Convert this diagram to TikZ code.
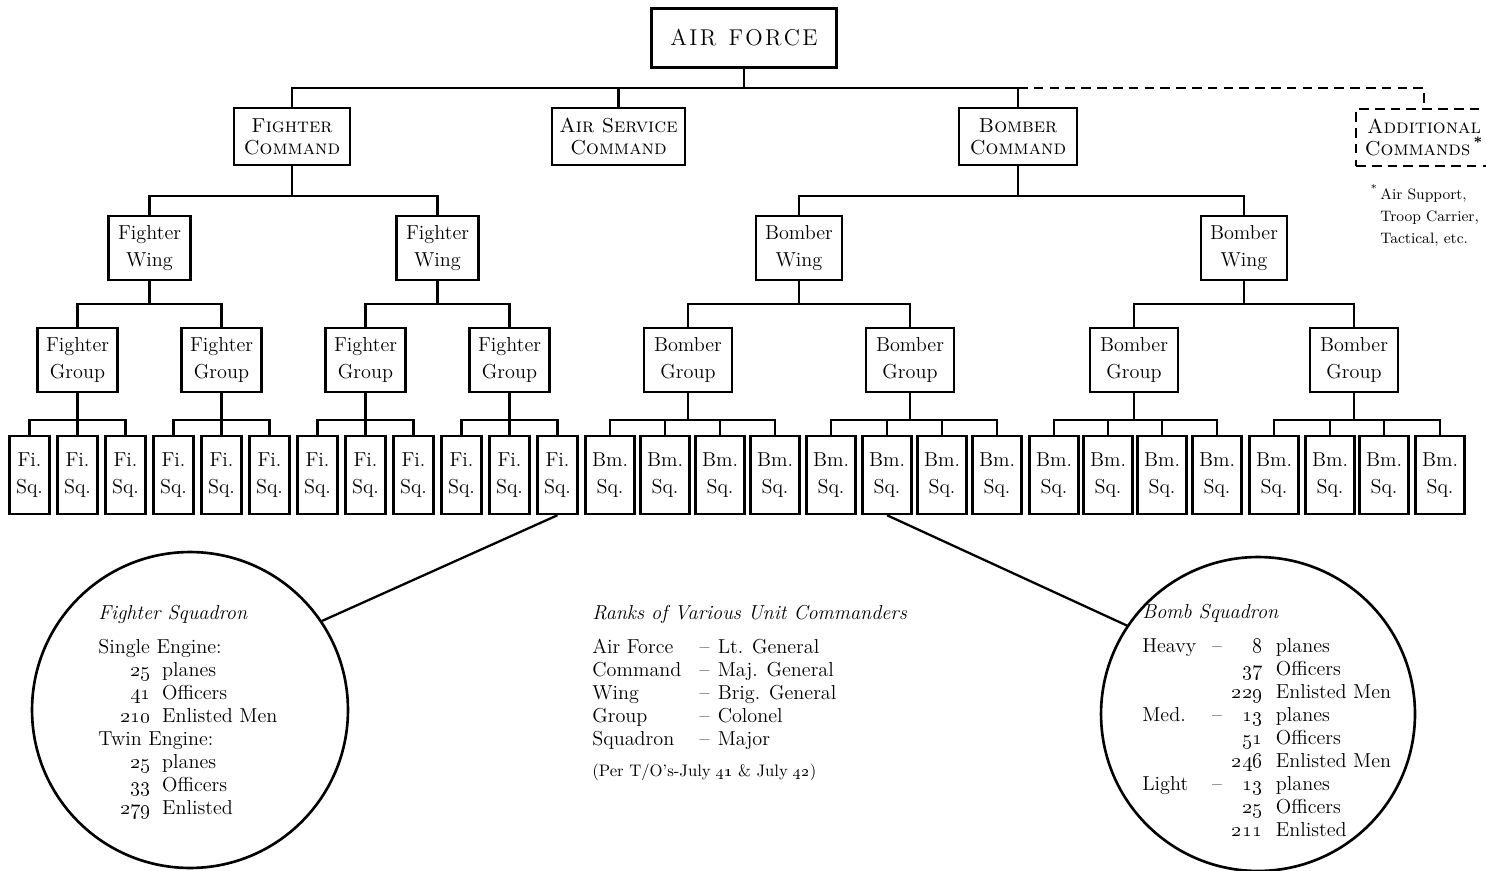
\documentclass[tikz,border=0pt]{standalone}
\newcommand{\nm}[1]{\makebox[30pt][r]{\oldstylenums{#1}}\hspace{6.3pt}}
\newcommand{\brow}[4]{\makebox[39.7pt][l]{#1}\makebox[28.9pt][l]{#2\hfill\oldstylenums{#3}}\hspace{7.4pt}#4}
\newcommand{\rrow}[2]{\makebox[61pt][l]{#1}\makebox[10.4pt][l]{--}#2}
\begin{document}
\begin{tikzpicture}[x=0.02cm,y=-0.02cm,
  base/.style={font=\fontsize{11.5}{15}\selectfont, align=center, inner sep=0pt},
  ubox/.style={base, draw, line width=1.4pt},
  cmdbox/.style={ubox, font=\fontsize{11.5}{12.5}\selectfont, minimum height=1.14cm},
  wingbox/.style={ubox, minimum height=1.28cm},
  fsq/.style={ubox, minimum width=0.8cm, minimum height=1.56cm},
  bsq/.style={fsq, minimum width=0.98cm},
  conn/.style={line width=1.3pt},
  dashconn/.style={line width=1.3pt, dash pattern=on 5.5pt off 3.5pt},
  ring/.style={circle, draw, line width=1.5pt, inner sep=0pt},
  txt/.style={anchor=north west, inner sep=0pt, font=\fontsize{11.5}{13.1}\selectfont}
]
\useasboundingbox[fill=white] (0,0) rectangle (1486,871);

% top level
\node[ubox, minimum width=3.7cm, minimum height=1.18cm] (af) at (744,38)
  {\fontsize{13}{15}\selectfont A\kern1.3pt I\kern1.3pt R\hspace{7pt}F\kern1.3pt O\kern1.3pt R\kern1.3pt C\kern1.3pt E};
\node[cmdbox, minimum width=2.32cm] (fc) at (292,136.5) {\textsc{Fighter}\\\textsc{Command}};
\node[cmdbox, minimum width=2.66cm] (asc) at (618.5,136.5) {\textsc{Air Service}\\\textsc{Command}};
\node[cmdbox, minimum width=2.36cm] (bc) at (1018,136.5) {\textsc{Bomber}\\\textsc{Command}};
\node[cmdbox, dash pattern=on 5.5pt off 3.5pt, minimum width=2.72cm] (adc) at (1424,137.5)
  {\textsc{Additional}\\\textsc{Commands}\,\textsuperscript{\textbf{*}}};
\node[anchor=north west, inner sep=0pt, align=left, font=\fontsize{8.6}{12.8}\selectfont] (note) at (1380,184)
  {\llap{\textsuperscript{*}\,}Air Support,\\Troop Carrier,\\Tactical, etc.};

% wings
\node[wingbox, minimum width=1.64cm] (fw1) at (149.5,248) {Fighter\\Wing};
\node[wingbox, minimum width=1.64cm] (fw2) at (437.5,248) {Fighter\\Wing};
\node[wingbox, minimum width=1.72cm] (bw1) at (799,248) {Bomber\\Wing};
\node[wingbox, minimum width=1.72cm] (bw2) at (1244,248) {Bomber\\Wing};

% groups
\foreach \x [count=\i] in {77.5,221.5,365.5,509.5}
  \node[wingbox, minimum width=1.6cm] (fg\i) at (\x,360) {Fighter\\Group};
\foreach \x [count=\i] in {688,910,1134,1354}
  \node[wingbox, minimum width=1.76cm] (bg\i) at (\x,360) {Bomber\\Group};

% squadrons
\foreach \x [count=\i] in {29.5,77.5,125.5,173.5,221.5,269.5,317.5,365.5,413.5,461.5,509.5,557.5}
  \node[fsq] (fs\i) at (\x,475) {Fi.\\Sq.};
\foreach \x [count=\i] in {610,665,720,775,831,887,942,997,1054,1108,1162,1217,1274,1330,1384,1440}
  \node[bsq] (bs\i) at (\x,475) {Bm.\\Sq.};

% connectors: top
\coordinate (bus0) at (744,88);
\draw[conn] (af.south) -- (bus0);
\draw[conn] (fc.north) |- (bus0) -| (bc.north);
\draw[conn] (asc.north) -- (asc.north |- bus0);
\draw[dashconn] (bc.north |- bus0) -| (adc.north);

% commands -> wings
\draw[conn] (fc.south) -- (fc.south |- 0,196);
\draw[conn] (fw1.north) |- (fc.south |- 0,196) -| (fw2.north);
\draw[conn] (bc.south) -- (bc.south |- 0,196);
\draw[conn] (bw1.north) |- (bc.south |- 0,196) -| (bw2.north);

% wings -> groups
\draw[conn] (fw1.south) -- (fw1.south |- 0,304);
\draw[conn] (fg1.north) |- (fw1.south |- 0,304) -| (fg2.north);
\draw[conn] (fw2.south) -- (fw2.south |- 0,304);
\draw[conn] (fg3.north) |- (fw2.south |- 0,304) -| (fg4.north);
\draw[conn] (bw1.south) -- (bw1.south |- 0,304);
\draw[conn] (bg1.north) |- (bw1.south |- 0,304) -| (bg2.north);
\draw[conn] (bw2.south) -- (bw2.south |- 0,304);
\draw[conn] (bg3.north) |- (bw2.south |- 0,304) -| (bg4.north);

% groups -> squadrons
\foreach \g [evaluate=\g as \a using int(3*\g-2), evaluate=\g as \b using int(3*\g-1), evaluate=\g as \c using int(3*\g)] in {1,...,4} {
  \draw[conn] (fs\a.north) |- (fg\g.south |- 0,420) -| (fs\c.north);
  \draw[conn] (fg\g.south) -- (fs\b.north);
}
\foreach \g [evaluate=\g as \a using int(4*\g-3), evaluate=\g as \b using int(4*\g-2), evaluate=\g as \c using int(4*\g-1), evaluate=\g as \d using int(4*\g)] in {1,...,4} {
  \draw[conn] (bs\a.north) |- (bg\g.south |- 0,420) -| (bs\d.north);
  \draw[conn] (bg\g.south) -- (bg\g.south |- 0,420);
  \draw[conn] (bs\b.north) -- (bs\b.north |- 0,420);
  \draw[conn] (bs\c.north) -- (bs\c.north |- 0,420);
}

% circles
\node[ring, minimum size=6.32cm] (fcirc) at (190,710) {};
\node[ring, minimum size=6.28cm] (bcirc) at (1258,714) {};
\draw[conn] (fs12.south) -- (fcirc.34);
\draw[conn] (bs6.south) -- (bcirc.146);

\node[txt] (ftext) at (98,603) {\begin{tabular}{@{}l@{}}
{\itshape Fighter Squadron}\\[6pt]
Single Engine:\\
\nm{25}planes\\
\nm{41}Officers\\
\nm{210}Enlisted Men\\
Twin Engine:\\
\nm{25}planes\\
\nm{33}Officers\\
\nm{279}Enlisted
\end{tabular}};

\node[txt] (rtext) at (592,603) {\begin{tabular}{@{}l@{}}
{\itshape Ranks of Various Unit Commanders}\\[6pt]
\rrow{Air Force}{Lt. General}\\
\rrow{Command}{Maj. General}\\
\rrow{Wing}{Brig. General}\\
\rrow{Group}{Colonel}\\
\rrow{Squadron}{Major}\\[5pt]
{\fontsize{9.5}{11}\selectfont (Per T/O's-July \oldstylenums{41} \& July \oldstylenums{42})}
\end{tabular}};

\node[txt] (btext) at (1142,602) {\begin{tabular}{@{}l@{}}
{\itshape Bomb Squadron}\\[6pt]
\brow{Heavy}{--}{8}{planes}\\
\brow{}{}{37}{Officers}\\
\brow{}{}{229}{Enlisted Men}\\
\brow{Med.}{--}{13}{planes}\\
\brow{}{}{51}{Officers}\\
\brow{}{}{246}{Enlisted Men}\\
\brow{Light}{--}{13}{planes}\\
\brow{}{}{25}{Officers}\\
\brow{}{}{211}{Enlisted}
\end{tabular}};
\end{tikzpicture}
\end{document}
